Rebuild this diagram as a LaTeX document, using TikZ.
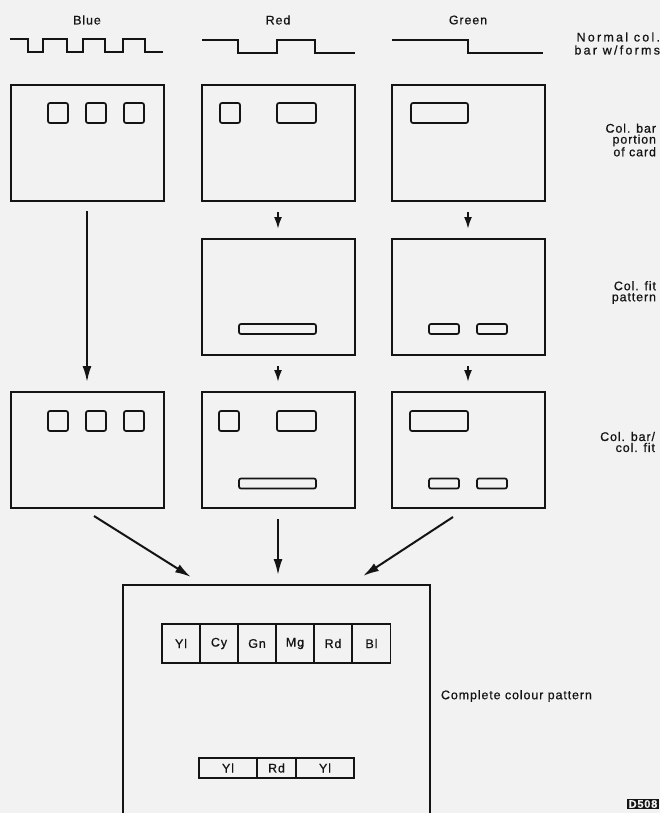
\documentclass[tikz,border=0pt]{standalone}
\usepackage{fontspec}
\setmainfont{Liberation Sans}[LetterSpace=7,FakeBold=0.7]
\usetikzlibrary{arrows.meta}
\definecolor{ink}{HTML}{141414}
\definecolor{paper}{HTML}{F2F2F2}

\begin{document}
\begin{tikzpicture}[x=1pt,y=-1pt,line width=2pt,
  card/.style={draw=ink,minimum width=153pt,minimum height=116pt,inner sep=0pt},
  slot/.style={draw=ink,rounded corners=2pt,line width=1.7pt,inner sep=0pt,minimum height=20pt},
  flat/.style={slot,minimum height=10pt},
  cell/.style={draw=ink,line width=1.7pt,inner sep=0pt,minimum width=38pt,minimum height=39pt,font=\fontsize{12.5}{12}\selectfont,text=ink},
  lbl/.style={font=\fontsize{12.5}{11}\selectfont,text=ink,inner sep=0pt},
  side/.style={lbl,align=right,anchor=east},
  bigarrow/.style={-{Latex[length=16pt,width=9pt]},line width=2pt,draw=ink},
  smallarrow/.style={-{Latex[length=12pt,width=8pt]},line width=2pt,draw=ink}]
\useasboundingbox (0,0) rectangle (660,813);
\fill[paper] (0,0) rectangle (660,813);

% column heads and waveforms
\node[lbl] (hd_blue) at (87,20) {Blue};
\node[lbl] (hd_red) at (278,20) {Red};
\node[lbl] (hd_green) at (468,20) {Green};
\draw[ink] (10,39) -- (28,39) -- (28,52) -- (43,52) -- (43,39) -- (67,39) -- (67,52) -- (83,52) -- (83,39) -- (105,39) -- (105,52) -- (123,52) -- (123,39) -- (145,39) -- (145,52) -- (163,52);
\draw[ink] (202,40) -- (238,40) -- (238,53) -- (277,53) -- (277,40) -- (315,40) -- (315,53) -- (355,53);
\draw[ink] (392,40) -- (468,40) -- (468,53) -- (543,53);

% row 1: col. bar portion of card
\node[card] (blue_a) at (87,143) {};
\node[card] (red_a) at (278,143) {};
\node[card] (green_a) at (468,143) {};
\node[slot,minimum width=20pt] (blue_a1) at (58,113) {};
\node[slot,minimum width=20pt] (blue_a2) at (96,113) {};
\node[slot,minimum width=20pt] (blue_a3) at (134,113) {};
\node[slot,minimum width=20pt] (red_a1) at (230,113) {};
\node[slot,minimum width=39pt] (red_a2) at (296.5,113) {};
\node[slot,minimum width=57pt] (green_a1) at (439.5,113) {};

% row 2: col. fit pattern
\node[card] (red_b) at (278,297) {};
\node[card] (green_b) at (468,297) {};
\node[flat,minimum width=77pt] (red_b1) at (277.5,329) {};
\node[flat,minimum width=30pt] (green_b1) at (444,329) {};
\node[flat,minimum width=30pt] (green_b2) at (492,329) {};

% row 3: col. bar / col. fit
\node[card] (blue_c) at (87,450) {};
\node[card] (red_c) at (278,450) {};
\node[card] (green_c) at (468,450) {};
\node[slot,minimum width=20pt] (blue_c1) at (58,421) {};
\node[slot,minimum width=20pt] (blue_c2) at (96,421) {};
\node[slot,minimum width=20pt] (blue_c3) at (134,421) {};
\node[slot,minimum width=20pt] (red_c1) at (229,421) {};
\node[slot,minimum width=39pt] (red_c2) at (296.5,421) {};
\node[flat,minimum width=77pt] (red_c3) at (277.5,483.5) {};
\node[slot,minimum width=58pt] (green_c1) at (439,421) {};
\node[flat,minimum width=30pt] (green_c2) at (444,483.5) {};
\node[flat,minimum width=30pt] (green_c3) at (492,483.5) {};

% complete pattern
\node[minimum width=305pt,minimum height=227pt,inner sep=0pt] (pattern) at (276.5,699.5) {};
\draw[ink] (pattern.south west) |- (pattern.north east) -- (pattern.south east);
\node[cell] (c_yl) at (181,643.5) {Yl};
\node[cell] (c_cy) at (219,643.5) {Cy};
\node[cell] (c_gn) at (257,643.5) {Gn};
\node[cell] (c_mg) at (295,643.5) {Mg};
\node[cell] (c_rd) at (333,643.5) {Rd};
\node[cell] (c_bl) at (371.5,643.5) {Bl};
\node[cell,minimum width=58pt,minimum height=20pt] (d_yl1) at (228,768) {Yl};
\node[cell,minimum width=39pt,minimum height=20pt] (d_rd) at (276.5,768) {Rd};
\node[cell,minimum width=58pt,minimum height=20pt] (d_yl2) at (325,768) {Yl};

% connectors
\draw[bigarrow,shorten <=9pt,shorten >=9pt] (blue_a.south) -- (blue_c.north);
\draw[smallarrow,shorten <=10pt,shorten >=9pt] (red_a.south) -- (red_b.north);
\draw[smallarrow,shorten <=10pt,shorten >=9pt] (green_a.south) -- (green_b.north);
\draw[smallarrow,shorten <=10pt,shorten >=9pt] (red_b.south) -- (red_c.north);
\draw[smallarrow,shorten <=10pt,shorten >=9pt] (green_b.south) -- (green_c.north);
\draw[bigarrow] ([xshift=7pt,yshift=-7pt]blue_c.south) -- ([xshift=-85.5pt,yshift=8pt]pattern.north);
\draw[bigarrow,shorten <=10pt,shorten >=10pt] (red_c.south) -- (red_c.south |- pattern.north);
\draw[bigarrow] ([xshift=-15pt,yshift=-8pt]green_c.south) -- ([xshift=86.5pt,yshift=9pt]pattern.north);

% side labels
\node[side,font=\fontsize{12.5}{11}\selectfont\addfontfeature{LetterSpace=18}] (t_normal) at (661,43.5) {Normal col.\\[2pt]bar w/forms};
\node[side] (t_portion) at (657,140) {Col. bar\\portion\\of card};
\node[side] (t_fit) at (657,292.5) {Col. fit\\pattern};
\node[side] (t_both) at (656,442) {Col. bar/\\col. fit};
\node[lbl,anchor=west] (t_complete) at (440,696) {Complete colour pattern};
\node[fill=ink,text=paper,inner sep=1.5pt,font=\fontsize{11}{11}\selectfont\bfseries] (t_code) at (643,804) {D508};
\end{tikzpicture}
\end{document}
